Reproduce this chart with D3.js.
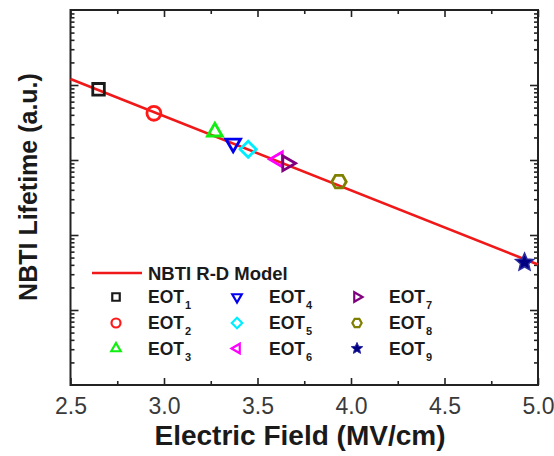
<!DOCTYPE html>
<html>
<head>
<meta charset="utf-8">
<script src="https://cdn.jsdelivr.net/npm/d3@7"></script>
<style>
  html, body { margin: 0; padding: 0; background: #fff; }
  svg { display: block; }
  text { font-family: "Liberation Sans", Arial, Helvetica, sans-serif; }
</style>
</head>
<body>
<script>
// ---------------- data ----------------
const seriesBase = ["EOT","EOT","EOT","EOT","EOT","EOT","EOT","EOT","EOT"];
const seriesSub = ["1","2","3","4","5","6","7","8","9"];
const fieldValues = [2.65, 2.946, 3.272, 3.370, 3.450, 3.610, 3.658, 3.936, 4.928];
const lifetimeValues = [8770, 4200, 2380, 1670, 1390, 1020, 904, 514, 43];
const modelName = "NBTI R-D Model";
const modelField = [2.5, 5.0];
const modelLifetime = [12020, 40.4];
const xTickValues = [2.5, 3.0, 3.5, 4.0, 4.5, 5.0];
const xTickLabels = ["2.5", "3.0", "3.5", "4.0", "4.5", "5.0"];
const xMinorValues = [2.75, 3.25, 3.75, 4.25, 4.75];
const yDomain = [1, 1e5];
const xLabel = "Electric Field (MV/cm)";
const yLabel = "NBTI Lifetime (a.u.)";

// ---------------- styles ----------------
const markerColors = ["#1a1a1a", "#ff1a1a", "#11ee11", "#0000ee", "#00eeff", "#ff00ff", "#800080", "#808000", "#000080"];
const markerShapes = ["square", "circle", "triangleUp", "triangleDown", "diamond", "triangleLeft", "triangleRight", "hexagon", "star"];

// ---------------- layout ----------------
const W = 554, H = 456;
const L = 70.5, R = 538, T = 10, B = 385;

const svg = d3.select("body").append("svg").attr("width", W).attr("height", H);

const x = d3.scaleLinear().domain([2.5, 5.0]).range([L, R]);
const y = d3.scaleLog().domain(yDomain).range([B, T]);

// shape path generator (r = nominal radius)
function poly(pts) { return "M" + pts.map(p => p[0].toFixed(2) + "," + p[1].toFixed(2)).join("L") + "Z"; }
function regular(n, R, startDeg) {
  const pts = [];
  for (let i = 0; i < n; i++) {
    const a = (startDeg + i * 360 / n) * Math.PI / 180;
    pts.push([R * Math.cos(a), R * Math.sin(a)]);
  }
  return pts;
}
function shapePath(shape, r) {
  switch (shape) {
    case "square": { const a = r * 0.68; return poly([[-a,-a],[a,-a],[a,a],[-a,a]]); }
    case "circle": return d3.arc()({innerRadius: 0, outerRadius: r * 0.82, startAngle: 0, endAngle: 2 * Math.PI});
    case "diamond": return poly(regular(4, r * 0.95, -90));
    case "triangleUp": return poly(regular(3, r, -90));
    case "triangleDown": return poly(regular(3, r, 90));
    case "triangleLeft": return poly(regular(3, r, 180));
    case "triangleRight": return poly(regular(3, r, 0));
    case "hexagon": return poly(regular(6, r * 0.85, 0));
    case "star": {
      const pts = [];
      for (let i = 0; i < 10; i++) {
        const rr = i % 2 === 0 ? r * 1.1 : r * 0.5;
        const a = (-90 + i * 36) * Math.PI / 180;
        pts.push([rr * Math.cos(a), rr * Math.sin(a)]);
      }
      return poly(pts);
    }
  }
}

// ---------------- axes (ticks inward) ----------------
const axisColor = "#222";
function styleAxis(g) {
  g.select(".domain").remove();
  g.selectAll(".tick line").attr("stroke", axisColor).attr("stroke-width", 1.6);
}

// bottom
svg.append("g").attr("transform", `translate(0,${B})`)
  .call(d3.axisBottom(x).tickValues(xTickValues).tickSize(-7).tickPadding(13)
    .tickFormat((d, i) => xTickLabels[i]))
  .call(styleAxis)
  .call(g => g.selectAll(".tick text").attr("font-size", 23).attr("fill", "#3a3a3a")
    .attr("font-family", "Liberation Sans, Arial, sans-serif"));
svg.append("g").attr("transform", `translate(0,${B})`)
  .call(d3.axisBottom(x).tickValues(xMinorValues).tickSize(-4).tickFormat(""))
  .call(styleAxis);
// top
svg.append("g").attr("transform", `translate(0,${T})`)
  .call(d3.axisTop(x).tickValues(xTickValues).tickSize(-7).tickFormat(""))
  .call(styleAxis);
svg.append("g").attr("transform", `translate(0,${T})`)
  .call(d3.axisTop(x).tickValues(xMinorValues).tickSize(-4).tickFormat(""))
  .call(styleAxis);

// log ticks
const yMajor = [], yMinor = [];
for (let e = 0; e < 5; e++) {
  const base = Math.pow(10, e);
  if (e > 0) yMajor.push(base);
  for (let m = 2; m <= 9; m++) yMinor.push(m * base);
}
[["left", L, d3.axisLeft], ["right", R, d3.axisRight]].forEach(([side, pos, ax]) => {
  svg.append("g").attr("transform", `translate(${pos},0)`)
    .call(ax(y).tickValues(yMajor).tickSize(-8).tickFormat(""))
    .call(styleAxis);
  svg.append("g").attr("transform", `translate(${pos},0)`)
    .call(ax(y).tickValues(yMinor).tickSize(-4).tickFormat(""))
    .call(styleAxis);
});

// frame
svg.append("rect").attr("x", L).attr("y", T).attr("width", R - L).attr("height", B - T)
  .attr("fill", "none").attr("stroke", axisColor).attr("stroke-width", 2);

// ---------------- model line ----------------
const lineData = modelField.map((f, i) => [f, modelLifetime[i]]);
svg.append("path").datum(lineData)
  .attr("d", d3.line().x(d => x(d[0])).y(d => y(d[1])))
  .attr("fill", "none").attr("stroke", "#f01818").attr("stroke-width", 2.6);

// ---------------- markers ----------------
const pts = fieldValues.map((f, i) => ({f, v: lifetimeValues[i], i}));
svg.append("g").selectAll("path").data(pts).join("path")
  .attr("transform", d => `translate(${x(d.f)},${y(d.v)})`)
  .attr("d", d => shapePath(markerShapes[d.i], 8.5))
  .attr("fill", d => markerShapes[d.i] === "star" ? markerColors[d.i] : "none")
  .attr("stroke", d => markerShapes[d.i] === "star" ? "#2a2aa0" : markerColors[d.i])
  .attr("stroke-width", d => markerShapes[d.i] === "star" ? 1.5 : 2.8)
  .attr("stroke-linejoin", "miter");

// ---------------- legend ----------------
const leg = svg.append("g");
leg.append("line").attr("x1", 92).attr("x2", 142).attr("y1", 273).attr("y2", 273)
  .attr("stroke", "#f01818").attr("stroke-width", 2.6);
leg.append("text").attr("x", 148).attr("y", 273).attr("dy", "0.36em")
  .attr("font-size", 18.5).attr("font-weight", "bold").attr("fill", "#1a1a1a").text(modelName);

const colX = [116, 237, 357];
const rowY = [297, 323, 348.5];
seriesBase.forEach((name, i) => {
  const cx = colX[Math.floor(i / 3)], cy = rowY[i % 3];
  const shape = markerShapes[i];
  leg.append("path").attr("transform", `translate(${cx},${cy})`)
    .attr("d", shapePath(shape, 5.5))
    .attr("fill", shape === "star" ? markerColors[i] : "none")
    .attr("stroke", shape === "star" ? "#2a2aa0" : markerColors[i])
    .attr("stroke-width", shape === "star" ? 1 : 2.2);
  const t = leg.append("text").attr("x", cx + 32).attr("y", cy).attr("dy", "0.36em")
    .attr("font-size", 17.5).attr("font-weight", "bold").attr("fill", "#1a1a1a");
  t.append("tspan").text(name);
  t.append("tspan").attr("font-size", 11).attr("dy", 6).attr("dx", 1).text(seriesSub[i]);
});

// ---------------- axis titles ----------------
svg.append("text").attr("x", 300).attr("y", 445)
  .attr("text-anchor", "middle").attr("font-size", 28).attr("font-weight", "bold")
  .attr("fill", "#1a1a1a").text(xLabel);
svg.append("text").attr("transform", "translate(37,187) rotate(-90)")
  .attr("text-anchor", "middle").attr("font-size", 25).attr("font-weight", "bold")
  .attr("fill", "#1a1a1a").text(yLabel);
</script>
</body>
</html>
